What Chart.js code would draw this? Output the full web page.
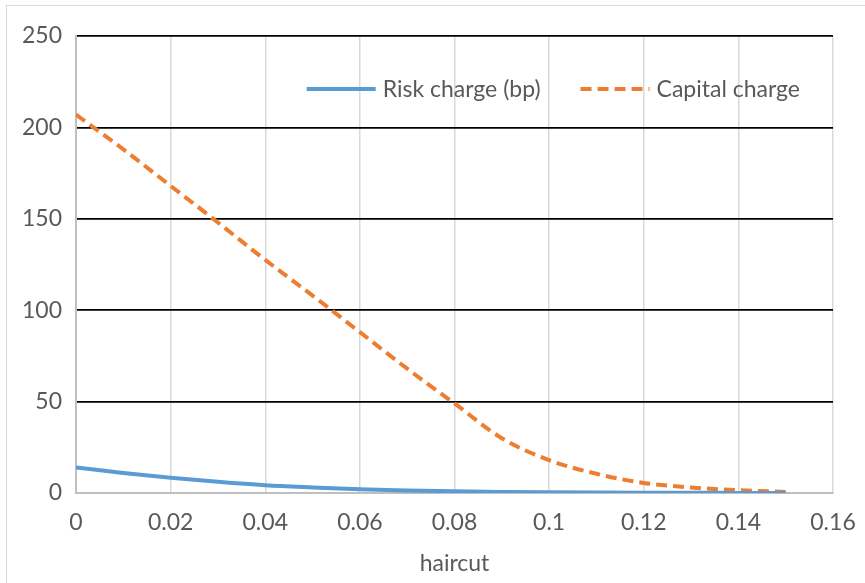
<!DOCTYPE html>
<html>
<head>
<meta charset="utf-8">
<script src="https://cdn.jsdelivr.net/npm/chart.js@4.4.1/dist/chart.umd.min.js"></script>
<style>
  html, body { margin: 0; padding: 0; background: #fff; overflow: hidden; }
  #wrap { position: relative; width: 865px; height: 583px; }
  #frame { position: absolute; left: 6px; top: 5px; width: 900px; height: 700px;
           border: 1.5px solid #d9d9d9; pointer-events: none; box-sizing: border-box; }
  canvas { position: absolute; left: 0; top: 0; }
</style>
</head>
<body>
<div id="wrap">
  <canvas id="c" width="865" height="583"></canvas>
  <div id="frame"></div>
</div>
<script>
// ---- data ----
const haircut = [0, 0.01, 0.02, 0.03, 0.04, 0.05, 0.06, 0.07, 0.08, 0.09, 0.10, 0.11, 0.12, 0.13, 0.14, 0.15];
const riskCharge = [14, 11, 8.4, 6.1, 4.2, 3.0, 2.0, 1.4, 0.9, 0.6, 0.4, 0.25, 0.15, 0.1, 0.05, 0.02];
const capitalCharge = [207, 188, 168, 148, 127.5, 108, 88, 68, 49, 30, 18, 10.5, 5.5, 3, 1.5, 0.6];
const seriesNames = ['Risk charge (bp)', 'Capital charge'];
const xTicks = [0, 0.02, 0.04, 0.06, 0.08, 0.1, 0.12, 0.14, 0.16];
const yTicks = [0, 50, 100, 150, 200, 250];
const xTitle = 'haircut';

const FONT = 'Lato, "Open Sans", sans-serif';
const TXT = '#595959';
const FS = 23;

const toPts = (xs, ys) => xs.map((x, i) => ({ x: x, y: ys[i] }));

const insideLegend = {
  id: 'insideLegend',
  afterDatasetsDraw(chart) {
    const ctx = chart.ctx;
    const area = chart.chartArea;
    ctx.save();
    ctx.font = FS + 'px ' + FONT;
    const lineLen = 69, gapText = 7, gapItem = 40;
    const items = chart.data.datasets.map(d => ({
      label: d.label, color: d.borderColor, dash: d.borderDash || [],
      w: ctx.measureText(d.label).width
    }));
    let total = 0;
    items.forEach((it, i) => { total += lineLen + gapText + it.w + (i ? gapItem : 0); });
    let x = area.right - 33 - total;
    const y = 89;
    items.forEach((it, i) => {
      if (i) x += gapItem;
      ctx.beginPath();
      ctx.setLineDash(it.dash);
      ctx.lineWidth = 4;
      ctx.lineCap = 'butt';
      ctx.strokeStyle = it.color;
      ctx.moveTo(x, y);
      ctx.lineTo(x + lineLen, y);
      ctx.stroke();
      ctx.setLineDash([]);
      x += lineLen + gapText;
      ctx.fillStyle = TXT;
      ctx.textBaseline = 'middle';
      ctx.textAlign = 'left';
      ctx.fillText(it.label, x, y + 1);
      x += it.w;
    });
    ctx.restore();
  }
};

new Chart(document.getElementById('c'), {
  type: 'line',
  data: {
    datasets: [
      {
        label: seriesNames[0],
        data: toPts(haircut, riskCharge),
        borderColor: '#5b9bd5',
        borderWidth: 4,
        pointRadius: 0,
        cubicInterpolationMode: 'monotone',
        fill: false
      },
      {
        label: seriesNames[1],
        data: toPts(haircut, capitalCharge),
        borderColor: '#ed7d31',
        borderWidth: 4,
        borderDash: [11, 6],
        pointRadius: 0,
        cubicInterpolationMode: 'monotone',
        fill: false
      }
    ]
  },
  options: {
    responsive: false,
    animation: false,
    events: [],
    layout: { padding: { left: 0, top: 36, right: 32, bottom: 0 } },
    plugins: { legend: { display: false }, tooltip: { enabled: false } },
    scales: {
      x: {
        type: 'linear',
        min: 0, max: 0.16,
        afterFit: s => { s.height = 90; s.paddingLeft = 0; s.paddingRight = 0; },
        afterBuildTicks: s => { s.ticks = xTicks.map(v => ({ value: v })); },
        ticks: {
          padding: 16,
          color: TXT,
          font: { family: FONT, size: FS },
          maxRotation: 0,
          autoSkip: false,
          callback: v => String(Number(v.toFixed(2)))
        },
        grid: {
          drawTicks: false,
          color: '#d9d9d9',
          lineWidth: 1.5
        },
        border: { color: '#bfbfbf', width: 2 },
        title: {
          display: true,
          text: xTitle,
          color: TXT,
          font: { family: FONT, size: FS },
          padding: { top: 0, bottom: 6 }
        }
      },
      y: {
        min: 0, max: 250,
        afterFit: s => { s.width = 76; s.paddingTop = 0; s.paddingBottom = 0; },
        afterBuildTicks: s => { s.ticks = yTicks.map(v => ({ value: v })); },
        ticks: {
          padding: 14,
          color: TXT,
          font: { family: FONT, size: FS }
        },
        grid: {
          drawTicks: false,
          color: c => (c.tick && c.tick.value === 0) ? 'rgba(0,0,0,0)' : '#000000',
          lineWidth: 1.75
        },
        border: { color: '#bfbfbf', width: 2 }
      }
    }
  },
  plugins: [insideLegend]
});
</script>
</body>
</html>
